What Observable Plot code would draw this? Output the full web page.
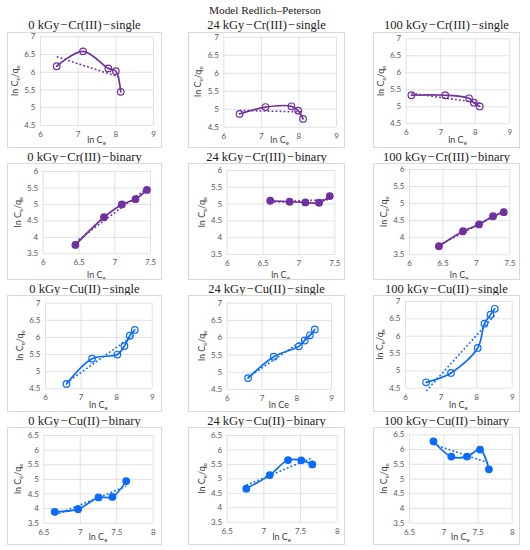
<!DOCTYPE html>
<html><head><meta charset="utf-8">
<script src="https://cdn.jsdelivr.net/npm/d3@7"></script>
<script src="https://cdn.jsdelivr.net/npm/@observablehq/plot@0.6"></script>
<style>
body{margin:0;background:#fff;width:530px;height:550px;position:relative;overflow:hidden}
.title{position:absolute;font-family:"Liberation Serif",serif;font-size:12.5px;line-height:14px;color:#222;text-align:center;white-space:nowrap}
.panel{position:absolute;outline:1px solid #d9d9d9;outline-offset:-1px}
.panel svg{display:block;background:transparent}
</style></head><body>
<div class="title" style="left:0;width:530px;top:3px;font-size:11.3px">Model Redlich–Peterson</div>
<script>
// ---- data ----
const doses = ["0 kGy", "24 kGy", "100 kGy"];
const metals = ["Cr(III)", "Cr(III)", "Cu(II)", "Cu(II)"];
const systems = ["single", "binary", "single", "binary"];

const x0CrS = [6.43, 7.13, 7.80, 8.00, 8.13];
const y0CrS = [6.17, 6.59, 6.11, 6.03, 5.45];
const x24CrS = [6.42, 7.11, 7.80, 7.98, 8.11];
const y24CrS = [4.87, 5.06, 5.08, 4.96, 4.73];
const x100CrS = [6.15, 7.13, 7.82, 7.96, 8.13];
const y100CrS = [5.34, 5.34, 5.25, 5.12, 5.01];

const x0CrB = [6.45, 6.85, 7.10, 7.29, 7.45];
const y0CrB = [3.77, 4.61, 5.00, 5.16, 5.44];
const x24CrB = [6.60, 6.87, 7.09, 7.28, 7.43];
const y24CrB = [5.10, 5.07, 5.05, 5.04, 5.24];
const x100CrB = [6.44, 6.80, 7.04, 7.25, 7.41];
const y100CrB = [3.75, 4.19, 4.39, 4.63, 4.75];

const x0CuS = [6.59, 7.31, 8.02, 8.22, 8.37, 8.51];
const y0CuS = [4.64, 5.38, 5.50, 5.75, 6.05, 6.22];
const x24CuS = [6.60, 7.34, 8.06, 8.23, 8.38, 8.52];
const y24CuS = [4.83, 5.45, 5.75, 5.92, 6.07, 6.24];
const x100CuS = [6.58, 7.28, 8.03, 8.22, 8.39, 8.51];
const y100CuS = [4.67, 4.94, 5.66, 6.36, 6.62, 6.79];

const x0CuB = [6.65, 6.97, 7.25, 7.44, 7.63];
const y0CuB = [3.89, 3.98, 4.38, 4.40, 4.94];
const x24CuB = [6.76, 7.08, 7.33, 7.51, 7.66];
const y24CuB = [4.66, 5.13, 5.65, 5.64, 5.50];
const x100CuB = [6.85, 7.11, 7.34, 7.53, 7.66];
const y100CuB = [6.28, 5.76, 5.76, 6.00, 5.33];

const xTicksSingle = [6, 7, 8, 9];
const yTicksSingle = [4.5, 5, 5.5, 6, 6.5, 7];
const xTicksCrB = [6, 6.5, 7, 7.5];
const yTicksCrB = [3.5, 4, 4.5, 5, 5.5, 6];
const xTicksCuB = [6.5, 7, 7.5, 8];
const yTicksCuB = [3.5, 4, 4.5, 5, 5.5, 6, 6.5];

// x-axis titles, row by row ("ln Ce" in the middle Cu(II)-single panel has no subscript)
const xLabels = [
  ["ln C", "e"], ["ln C", "e"], ["ln C", "e"],
  ["ln C", "e"], ["ln C", "e"], ["ln C", "e"],
  ["ln C", "e"], ["ln Ce", ""], ["ln C", "e"],
  ["ln C", "e"], ["ln C", "e"], ["ln C", "e"]
];

// ---- assembly ----
const series = [
  [[x0CrS, y0CrS], [x24CrS, y24CrS], [x100CrS, y100CrS]],
  [[x0CrB, y0CrB], [x24CrB, y24CrB], [x100CrB, y100CrB]],
  [[x0CuS, y0CuS], [x24CuS, y24CuS], [x100CuS, y100CuS]],
  [[x0CuB, y0CuB], [x24CuB, y24CuB], [x100CuB, y100CuB]]
];
const rowTicks = [
  [xTicksSingle, yTicksSingle],
  [xTicksCrB, yTicksCrB],
  [xTicksSingle, yTicksSingle],
  [xTicksCuB, yTicksCuB]
];
const crColor = "#7030a0", cuColor = "#0a6bff";

// ---- layout ----
const boxX = [7, 188, 373], boxW = [155, 157, 147];
const boxY = [32, 163, 295, 427], boxH = [116, 117, 117, 118];
const titleY = [18, 150, 282, 414];
const xLabBottom = [8, 5, 7, 8];
const margins = [
  [[33, 9, 4.3, 23], [35.3, 9, 4.7, 21.3], [32.7, 10.7, 6.3, 24.7]],
  [[35.7, 12, 8, 26.7], [38.7, 10.7, 7, 26], [36, 10.7, 6, 25.7]],
  [[38, 10.3, 7.7, 23.7], [38.7, 14, 7.7, 23], [32, 8.3, 6, 24.3]],
  [[36.3, 9.3, 8, 22.3], [38.7, 8.3, 8, 23.3], [36, 8.3, 7.3, 22.3]]
];

const fmt = d => String(d);

for (let r = 0; r < 4; r++) {
  for (let c = 0; c < 3; c++) {
    const [xs, ys] = series[r][c];
    const [xt, yt] = rowTicks[r];
    const data = xs.map((x, i) => ({x, y: ys[i]}));
    const color = r < 2 ? crColor : cuColor;
    const filled = systems[r] === "binary";
    const [mL, mR, mT, mB] = margins[r][c];
    const W = boxW[c], H = boxH[r];

    const t = document.createElement("div");
    t.className = "title";
    t.style.left = boxX[c] + "px";
    t.style.width = W + "px";
    t.style.top = titleY[r] + "px";
    t.textContent = `${doses[c]}\u200A\u2212\u200A${metals[r]}\u200A\u2212\u200A${systems[r]}`;
    document.body.appendChild(t);

    const div = document.createElement("div");
    div.className = "panel";
    div.style.left = boxX[c] + "px";
    div.style.top = boxY[r] + "px";
    div.style.width = W + "px";
    div.style.height = H + "px";

    const svg = Plot.plot({
      width: W, height: H,
      marginLeft: mL, marginRight: mR, marginTop: mT, marginBottom: mB,
      style: {fontFamily: "Lato, 'Open Sans', sans-serif", fontSize: "8px", color: "#595959", background: "transparent"},
      x: {domain: [xt[0], xt[xt.length - 1]], ticks: xt, tickSize: 0, tickPadding: 6, label: null, tickFormat: fmt},
      y: {domain: [yt[0], yt[yt.length - 1]], ticks: yt, tickSize: 0, tickPadding: 5, label: null, tickFormat: fmt},
      marks: [
        Plot.gridX(xt, {stroke: "#d9d9d9", strokeOpacity: 1, strokeWidth: 0.8}),
        Plot.gridY(yt, {stroke: "#d9d9d9", strokeOpacity: 1, strokeWidth: 0.8}),
        Plot.linearRegressionY(data, {x: "x", y: "y", stroke: color, strokeWidth: 1.6, strokeDasharray: "1.8,2.2", strokeLinecap: "butt", ci: 0}),
        Plot.line(data, {x: "x", y: "y", stroke: color, strokeWidth: 1.7, curve: "catmull-rom"}),
        Plot.dot(data, {x: "x", y: "y", r: 3.3, stroke: color, strokeWidth: 1.2, fill: filled ? color : "none"})
      ]
    });

    const s = d3.select(svg);
    // y label
    const yl = s.append("text")
      .attr("transform", `translate(${mL - 25},${mT + (H - mT - mB) / 2}) rotate(-90)`)
      .attr("text-anchor", "middle").attr("dy", "0.35em")
      .attr("font-family", "Lato, sans-serif").attr("font-size", 9).attr("fill", "#404040");
    yl.append("tspan").text("ln C");
    yl.append("tspan").attr("font-size", 6).attr("dy", 2).text("e");
    yl.append("tspan").attr("dy", -2).text("/q");
    yl.append("tspan").attr("font-size", 6).attr("dy", 2).text("e");
    // x label
    const [lab, sub] = xLabels[r * 3 + c];
    const xl = s.append("text")
      .attr("x", mL + (W - mL - mR) / 2).attr("y", H - xLabBottom[r] + 3)
      .attr("text-anchor", "middle")
      .attr("font-family", "Lato, sans-serif").attr("font-size", 9).attr("fill", "#404040");
    xl.append("tspan").text(lab);
    if (sub) xl.append("tspan").attr("font-size", 6).attr("dy", 2).text(sub);

    div.appendChild(svg);
    document.body.appendChild(div);
  }
}
</script>
</body></html>
